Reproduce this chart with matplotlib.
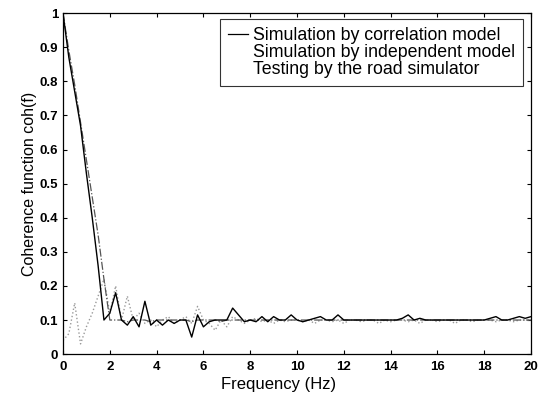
"""
Coherence function of the simulated and measured road inputs.
"""

import numpy as np
import matplotlib
matplotlib.use("Agg")
import matplotlib.pyplot as plt
from matplotlib.lines import Line2D


# frequency grid, 0.25 Hz resolution
freq = np.arange(0, 20.01, 0.25)

coh_correlation = [
    1.00, 0.87, 0.77, 0.67, 0.53, 0.40, 0.26, 0.10, 0.12, 0.18,
    0.10, 0.085, 0.11, 0.08, 0.155, 0.085, 0.10, 0.085, 0.10, 0.09,
    0.10, 0.10, 0.05, 0.115, 0.08, 0.095, 0.10, 0.10, 0.10, 0.135,
    0.115, 0.095, 0.10, 0.095, 0.11, 0.095, 0.11, 0.10, 0.10, 0.115,
    0.10, 0.095, 0.10, 0.105, 0.11, 0.10, 0.10, 0.115, 0.10, 0.10,
    0.10, 0.10, 0.10, 0.10, 0.10, 0.10, 0.10, 0.10, 0.105, 0.115,
    0.10, 0.105, 0.10, 0.10, 0.10, 0.10, 0.10, 0.10, 0.10, 0.10,
    0.10, 0.10, 0.10, 0.105, 0.11, 0.10, 0.10, 0.105, 0.11, 0.105,
    0.11,
]

coh_independent = [
    1.00, 0.89, 0.79, 0.68, 0.57, 0.46, 0.35, 0.22, 0.10, 0.10,
    0.10, 0.095, 0.10, 0.10, 0.10, 0.095, 0.10, 0.10, 0.10, 0.10,
    0.10, 0.10, 0.095, 0.10, 0.10, 0.10, 0.10, 0.095, 0.10, 0.10,
    0.10, 0.10, 0.10, 0.10, 0.10, 0.10, 0.10, 0.10, 0.10, 0.10,
    0.10, 0.10, 0.10, 0.10, 0.10, 0.10, 0.10, 0.10, 0.10, 0.10,
    0.10, 0.10, 0.10, 0.10, 0.10, 0.10, 0.10, 0.10, 0.10, 0.10,
    0.10, 0.10, 0.10, 0.10, 0.10, 0.10, 0.10, 0.10, 0.10, 0.10,
    0.10, 0.10, 0.10, 0.10, 0.10, 0.10, 0.10, 0.10, 0.10, 0.10,
    0.10,
]

coh_testing = [
    0.04, 0.06, 0.15, 0.03, 0.08, 0.12, 0.17, 0.22, 0.12, 0.20,
    0.10, 0.17, 0.10, 0.12, 0.09, 0.10, 0.08, 0.10, 0.11, 0.09,
    0.10, 0.11, 0.09, 0.14, 0.10, 0.09, 0.07, 0.10, 0.08, 0.11,
    0.10, 0.09, 0.10, 0.105, 0.095, 0.10, 0.09, 0.10, 0.095, 0.10,
    0.10, 0.095, 0.10, 0.09, 0.10, 0.10, 0.095, 0.10, 0.09, 0.10,
    0.10, 0.095, 0.10, 0.10, 0.09, 0.10, 0.095, 0.10, 0.10, 0.095,
    0.10, 0.09, 0.10, 0.10, 0.095, 0.10, 0.10, 0.09, 0.10, 0.10,
    0.095, 0.10, 0.10, 0.10, 0.095, 0.10, 0.10, 0.095, 0.10, 0.10,
    0.10,
]

legend_labels = [
    "Simulation by correlation model",
    "Simulation by independent model",
    "Testing by the road simulator",
]

plt.rcParams["font.family"] = ["Liberation Sans", "DejaVu Sans"]

fig = plt.figure(figsize=(5.43, 3.97), dpi=100)
ax = fig.add_axes([0.116, 0.108, 0.862, 0.859])

ax.plot(freq, coh_testing, color="#9a9a9a", linestyle=":", linewidth=1.0)
ax.plot(freq, coh_independent, color="#555555", linestyle="-.", linewidth=0.9)
ax.plot(freq, coh_correlation, color="black", linestyle="-", linewidth=1.0)

ax.set_xlim(0, 20)
ax.set_ylim(0, 1)
ax.set_xticks(np.arange(0, 21, 2))
ax.set_yticks(np.arange(0, 1.01, 0.1))
ax.set_yticklabels(["0", "0.1", "0.2", "0.3", "0.4", "0.5",
                    "0.6", "0.7", "0.8", "0.9", "1"])
ax.tick_params(direction="in", top=True, right=True, length=3,
               labelsize=9.5, width=0.8)
ax.tick_params(axis="x", pad=5)
for label in ax.get_xticklabels() + ax.get_yticklabels():
    label.set_fontweight("bold")
for spine in ax.spines.values():
    spine.set_linewidth(0.9)

ax.set_xlabel("Frequency (Hz)", fontsize=12)
ax.xaxis.set_label_coords(0.46, -0.068)
ax.set_ylabel("Coherence function coh(f)", fontsize=11.5, labelpad=2)

# only the solid line sample shows in the scanned legend
handles = [
    Line2D([], [], color="black", linewidth=0.9),
    Line2D([], [], color="white", linewidth=0.9),
    Line2D([], [], color="white", linewidth=0.9),
]
leg = ax.legend(handles, legend_labels, loc="upper right",
                bbox_to_anchor=(0.983, 0.982), borderaxespad=0,
                fontsize=12.8, frameon=True, fancybox=False,
                edgecolor="black", handlelength=1.1, handletextpad=0.3,
                borderpad=0.45, labelspacing=0.0)
leg.get_frame().set_linewidth(0.8)

fig.savefig("out.png", dpi=100)
